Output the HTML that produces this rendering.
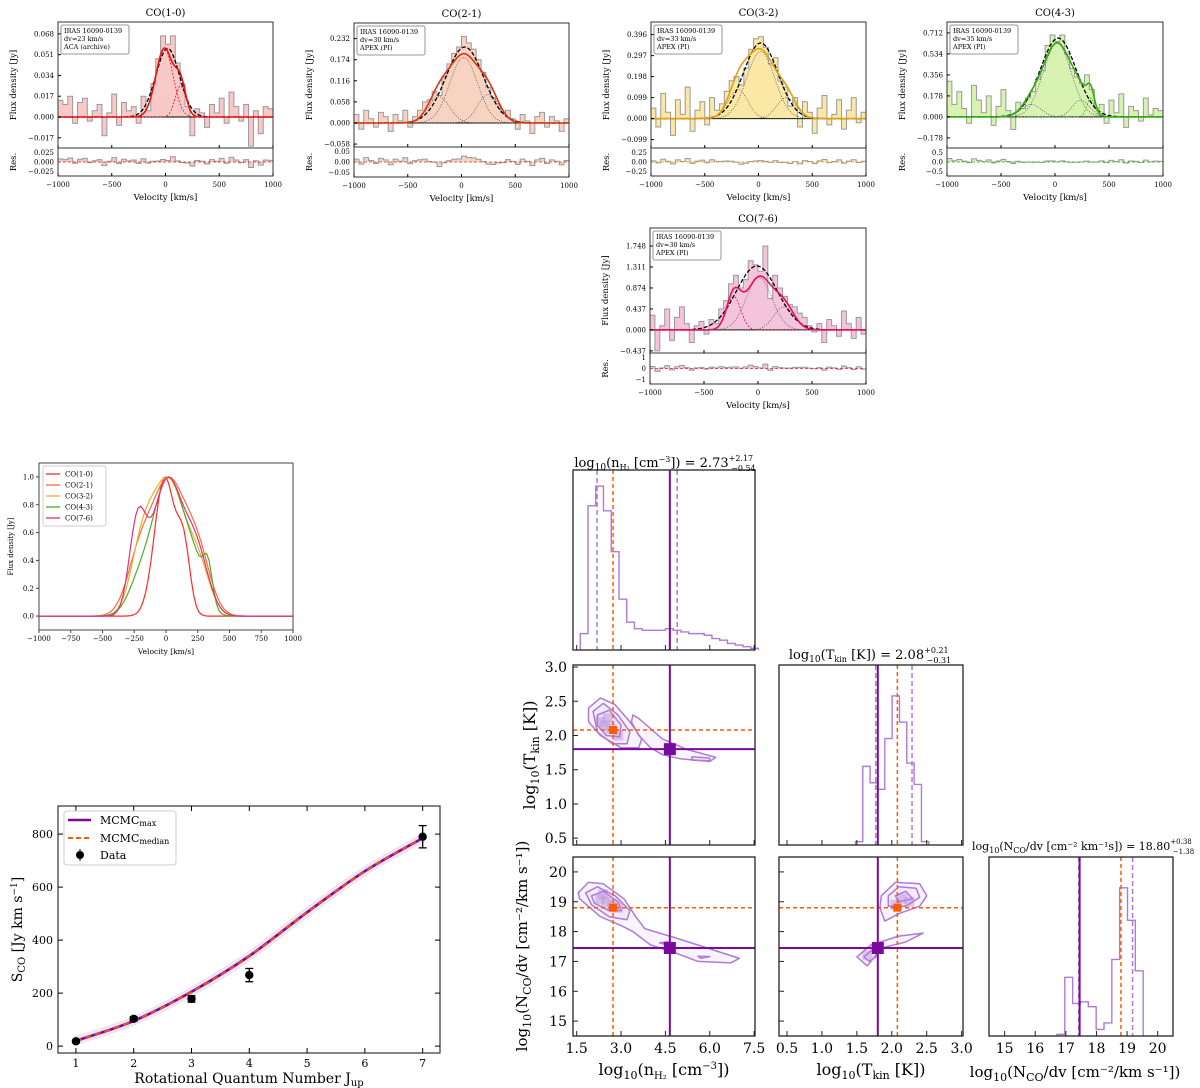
<!DOCTYPE html>
<html><head><meta charset="utf-8"><style>
html,body{margin:0;padding:0;background:#fff;}
svg{display:block;font-family:"DejaVu Serif","Liberation Serif",serif;}
</style></head><body>
<svg id="fig" xmlns="http://www.w3.org/2000/svg" width="1200" height="1088" viewBox="0 0 1200 1088"></svg>
<script>
// ---------------- DATA ----------------
const velEdgesMin = -1000, velEdgesMax = 1000;
const specTitles = ["CO(1-0)","CO(2-1)","CO(3-2)","CO(4-3)","CO(7-6)"];
const specDv = ["dv=23 km/s","dv=30 km/s","dv=33 km/s","dv=35 km/s","dv=30 km/s"];
const specObs = ["ACA (archive)","APEX (PI)","APEX (PI)","APEX (PI)","APEX (PI)"];
const specStep = [0.017,0.058,0.099,0.178,0.437];
const specTickLabels = [
 ["-0.017","0.000","0.017","0.034","0.051","0.068"],
 ["-0.058","0.000","0.058","0.116","0.174","0.232"],
 ["-0.099","0.000","0.099","0.198","0.297","0.396"],
 ["-0.178","0.000","0.178","0.356","0.534","0.712"],
 ["-0.437","0.000","0.437","0.874","1.311","1.748"]];
const resTickLabels = [["-0.025","0.000","0.025"],["-0.05","0.00","0.05"],["-0.25","0.00","0.25"],["-0.5","0.0","0.5"],["-1","0","1"]];
const resTickVal = [0.025,0.05,0.25,0.5,1];
// flux per bin (in units of the tick step)
const spec1 = [0.8,0.6,1.0,-0.3,0.7,0.9,-0.2,0.3,0.6,-0.9,0.2,1.1,-0.4,0.7,0.3,0.5,-0.3,1.0,0.3,1.6,2.8,3.9,3.5,3.9,2.6,1.6,0.5,-0.9,0.4,0.2,-0.5,0.6,0.2,0.9,-0.3,1.2,0.5,-0.2,0.6,-1.4,0.3,-0.8,0.5,0.4];
const spec2 = [0.4,-0.3,0.6,0.2,-0.2,0.5,0.3,-0.4,0.4,0.1,0.6,-0.2,0.3,0.6,1.0,1.1,1.5,1.3,2.2,2.8,3.3,3.6,4.1,3.8,3.5,3.0,2.4,1.7,1.2,0.9,0.5,0.6,0.2,-0.3,0.4,0.1,-0.5,0.3,0.5,-0.2,0.3,0.1,-0.4,0.2];
const spec3 = [0.5,-0.4,1.2,0.3,-0.8,0.9,0.2,1.5,-0.6,0.4,0.8,-0.3,1.0,0.4,0.7,1.3,1.8,2.0,1.6,2.4,3.3,3.8,3.9,3.4,2.6,2.9,1.8,1.5,0.6,1.0,-0.4,0.8,0.3,-0.7,0.5,1.1,-0.3,0.2,0.9,-0.5,0.4,1.0,-0.2,0.3];
const spec4 = [1.7,0.6,1.2,0.4,-0.3,1.5,0.8,0.2,1.0,-0.4,0.5,1.3,0.3,-0.6,0.7,0.4,0.9,1.2,1.8,2.2,3.4,3.9,3.6,3.9,3.0,2.3,1.9,1.6,2.0,1.3,0.4,0.6,-0.3,0.8,0.2,1.1,-0.5,0.5,0.3,-0.2,0.9,0.1,0.4,0.3];
const spec5 = [0.7,-1.0,0.2,1.0,-0.5,0.6,1.1,0.3,-0.6,0.2,0.4,-0.2,0.5,0.3,1.0,1.4,2.2,2.6,2.0,2.4,3.3,3.1,2.8,4.0,1.5,2.6,2.0,1.6,1.2,1.1,0.8,0.6,0.2,-0.1,0.3,-0.6,0.5,0.2,-0.3,0.9,0.3,-0.4,0.6,-0.2];
// gaussian components [amp(step units), centre km/s, sigma km/s]
const comps1 = [[3.3,-10,80],[1.5,140,50]];
const comps2 = [[3.1,20,130],[1.25,-210,100],[1.35,250,100]];
const comps3 = [[3.2,20,130],[1.4,-190,90],[1.0,260,90]];
const comps4 = [[3.5,20,130],[0.6,-220,90],[0.8,240,80],[0.9,330,35]];
const comps5 = [[2.5,10,120],[1.6,-225,65],[1.1,240,95]];
const single1 = [3.3,20,110], single2=[3.6,30,175], single3=[3.6,20,160], single4=[3.75,30,165], single5=[3.05,-10,190];
// ---------------- SED ----------------
const sedJ = [1,2,3,4,7];
const sedS = [18,103,178,268,790];
const sedErr = [5,8,12,25,42];
const modelJ = [1,2,3,4,5,6,7];
const modelS = [20,95,205,340,505,660,785];
const sedYTicks = [0,200,400,600,800];
const sedXTicks = [1,2,3,4,5,6,7];
// ---------------- CORNER ----------------
const truthMax = [4.65,1.80,17.45];
const truthMed = [2.73,2.08,18.80];
const qLo = [2.19,1.77,17.42];
const qHi = [4.90,2.29,19.18];
const histN = [0.1,0.88,1.0,0.85,0.6,0.31,0.17,0.13,0.12,0.12,0.12,0.13,0.12,0.11,0.1,0.1,0.09,0.07,0.06,0.04,0.03,0.02,0.01];
const histNStart = 1.62, histNWidth = 0.262;
const histT = [0.02,0.48,0.38,0.34,0.65,0.91,0.75,0.5,0.37,0.02];
const histTStart = 1.48, histTWidth = 0.105;
const histC = [0.01,0.36,0.2,0.21,0.18,0.04,0.08,0.47,0.91,0.71,0.4];
const histCStart = 16.71, histCWidth = 0.256;
const nTicks=[1.5,3.0,4.5,6.0,7.5], tTicks=[0.5,1.0,1.5,2.0,2.5,3.0], cTicks=[15,16,17,18,19,20];
const contNT = [
 [[1.9,2.4],[2.3,2.55],[2.8,2.45],[3.3,2.2],[3.7,1.95],[3.6,1.82],[3.0,1.82],[2.3,2.0],[1.9,2.2]],
 [[2.05,2.35],[2.4,2.47],[2.9,2.3],[3.3,2.05],[3.2,1.88],[2.7,1.88],[2.2,2.05]],
 [[2.2,2.3],[2.6,2.37],[3.0,2.15],[2.95,1.98],[2.5,2.0],[2.2,2.15]],
 [[3.4,2.3],[3.6,2.25],[4.4,1.95],[5.2,1.8],[6.2,1.68],[6.0,1.62],[5.0,1.66],[4.4,1.72],[4.0,1.82],[3.6,2.0],[3.35,2.2]],
 [[5.4,1.69],[6.0,1.67],[6.0,1.63],[5.4,1.64]]];
const contNC = [
 [[1.55,19.3],[1.9,19.65],[2.4,19.6],[3.1,19.1],[3.5,18.5],[3.8,18.1],[4.8,17.8],[5.6,17.55],[7.0,17.1],[6.7,16.95],[5.6,17.0],[4.8,17.3],[4.0,17.55],[3.4,18.0],[3.0,18.2],[2.3,18.5],[1.6,19.1]],
 [[1.8,19.3],[2.2,19.5],[2.8,19.2],[3.3,18.7],[3.2,18.4],[2.6,18.5],[2.0,18.9]],
 [[2.0,19.2],[2.4,19.35],[2.9,19.0],[3.0,18.7],[2.6,18.7],[2.1,18.95]],
 [[4.3,17.62],[4.6,17.66],[4.55,17.56]],
 [[5.6,17.17],[6.0,17.16],[5.7,17.1]]];
const contTC = [
 [[1.85,19.2],[2.05,19.65],[2.4,19.6],[2.5,19.2],[2.4,18.85],[2.1,18.6],[1.9,18.35],[1.83,18.8]],
 [[1.95,19.2],[2.1,19.5],[2.35,19.45],[2.4,19.15],[2.2,18.85],[1.95,18.85]],
 [[2.05,19.2],[2.2,19.35],[2.3,19.1],[2.1,19.0]],
 [[1.5,17.15],[1.7,17.55],[2.1,17.85],[2.45,17.95],[2.2,17.65],[1.85,17.45],[1.65,16.85]],
 [[1.6,17.15],[1.75,17.45],[1.8,17.2],[1.68,17.0]]];
const densNT = [[2.3,2.2],[2.45,2.15],[2.65,2.1],[2.55,2.25],[2.9,2.0]];
const densNC = [[2.3,19.1],[2.5,19.0],[2.7,18.9],[2.4,19.25],[2.9,18.8]];
const densTC = [[2.15,19.1],[2.25,19.0],[2.05,18.9],[1.65,17.2]];

// ---------------- helpers ----------------
const NS="http://www.w3.org/2000/svg";
const svg=document.getElementById('fig');
function el(tag,attrs,name,parent){
  const e=document.createElementNS(NS,tag);
  for(const k in attrs) e.setAttribute(k,attrs[k]);
  
  
  (parent||svg).appendChild(e); return e;
}
function txt(x,y,s,size,anchor,name,extra){
  const t=el('text',Object.assign({x:x,y:y,'font-size':size,'text-anchor':anchor||'middle',fill:'#000'},extra||{}),name);
  t.innerHTML=s; return t;
}
function gauss(c,v){return c[0]*Math.exp(-((v-c[1])**2)/(2*c[2]*c[2]));}
function sumG(cs,v){let s=0;for(const c of cs)s+=gauss(c,v);return s;}

// ---------------- spectra ----------------
const specs=[spec1,spec2,spec3,spec4,spec5];
const comps=[comps1,comps2,comps3,comps4,comps5];
const singles=[single1,single2,single3,single4,single5];
const fills=['#f8c9c9','#f8d3c2','#fbe8a6','#d8f2b2','#f4c3dc'];
const lines=['#ee1111','#dd3311','#e0a010','#33aa11','#e8105a'];
const layout=[
 {x0:58,x1:273,y0:22,ym:148,y1:176,up:4.57,dn:1.49},
 {x0:354,x1:569,y0:23,ym:147,y1:177,up:4.74,dn:1.14},
 {x0:651,x1:866,y0:22,ym:148,y1:176,up:4.6,dn:1.4},
 {x0:947,x1:1163,y0:22,ym:148,y1:176,up:4.52,dn:1.48},
 {x0:650,x1:866,y0:228,ym:353,y1:384,up:4.86,dn:1.1}];

specs.forEach((data,p)=>{
  const L=layout[p], g=el('g',{},'spectrum-panel-'+(p+1));
  const X=v=>L.x0+(v-velEdgesMin)/(velEdgesMax-velEdgesMin)*(L.x1-L.x0);
  const Y=u=>L.ym-(u+L.dn)/(L.up+L.dn)*(L.ym-L.y0);
  const rr=1.44, YR=r=>(L.ym+L.y1)/2-r/(rr)*((L.y1-L.ym)/2);
  const n=data.length, bw=(velEdgesMax-velEdgesMin)/n;
  let d='M'+X(velEdgesMin)+','+Y(0), ds='';
  data.forEach((u,i)=>{const a=X(velEdgesMin+i*bw),b=X(velEdgesMin+(i+1)*bw);
    d+=' L'+a+','+Y(u)+' L'+b+','+Y(u); ds+=(i?' L':'M')+a+','+Y(u)+' L'+b+','+Y(u);});
  d+=' L'+X(velEdgesMax)+','+Y(0)+'Z';
  el('path',{d:d,fill:fills[p],stroke:'none'},'flux-histogram-fill',g);
  el('path',{d:ds,fill:'none',stroke:'#999',"stroke-width":1},'flux-histogram',g);
  el('line',{x1:L.x0,x2:L.x1,y1:Y(0),y2:Y(0),stroke:'#000','stroke-width':1},'zero-line',g);
  comps[p].forEach((c,ci)=>{let pd='';for(let v=-1000;v<=1000;v+=10)pd+=(v>-1000?' L':'M')+X(v).toFixed(1)+','+Y(gauss(c,v)).toFixed(1);
    const col=(p===0||p===4&&ci===1||p===3&&ci===3);
    el('path',{d:pd,fill:'none',stroke:col?lines[p]:'#555','stroke-width':0.8,'stroke-dasharray':col?'2,1.5':'1,1.5'},'gaussian-component',g);});
  let td='',sd='';
  for(let v=-1000;v<=1000;v+=8){td+=(v>-1000?' L':'M')+X(v).toFixed(1)+','+Y(sumG(comps[p],v)).toFixed(1);
    sd+=(v>-1000?' L':'M')+X(v).toFixed(1)+','+Y(gauss(singles[p],v)).toFixed(1);}
  el('path',{d:sd,fill:'none',stroke:'#000','stroke-width':1.3,'stroke-dasharray':'4,2'},'single-gaussian-fit',g);
  el('path',{d:td,fill:'none',stroke:lines[p],'stroke-width':1.6},'total-fit',g);
  let rd='';
  data.forEach((u,i)=>{const vc=velEdgesMin+(i+0.5)*bw;let r=(u-sumG(comps[p],vc))*specStep[p]/resTickVal[p];r=Math.max(-1.4,Math.min(1.4,r*0.6));
    const a=X(velEdgesMin+i*bw),b=X(velEdgesMin+(i+1)*bw);rd+=(i?' L':'M')+a+','+YR(r)+' L'+b+','+YR(r);});
  el('path',{d:'M'+X(-1000)+','+YR(0)+' L'+rd.slice(1)+' L'+X(1000)+','+YR(0)+'Z',fill:fills[p],stroke:'none'},'residual-fill',g);
  el('path',{d:rd,fill:'none',stroke:'#999','stroke-width':1},'residual-histogram',g);
  el('line',{x1:L.x0,x2:L.x1,y1:YR(0),y2:YR(0),stroke:lines[p],'stroke-width':0.8,'stroke-dasharray':'3,2'},'residual-zero',g);
  el('rect',{x:L.x0,y:L.y0,width:L.x1-L.x0,height:L.ym-L.y0,fill:'none',stroke:'#333','stroke-width':1},'main-axes-frame',g);
  el('rect',{x:L.x0,y:L.ym,width:L.x1-L.x0,height:L.y1-L.ym,fill:'none',stroke:'#333','stroke-width':1},'residual-axes-frame',g);
  specTickLabels[p].forEach((s,k)=>{const yy=Y(k-1);
    el('line',{x1:L.x0,x2:L.x0+3,y1:yy,y2:yy,stroke:'#000'},'y-tick',g);
    txt(L.x0-4,yy+2.5,s.replace('-','−'),7,'end','y-tick-label');});
  resTickLabels[p].forEach((s,k)=>{const yy=YR(k-1);txt(L.x0-4,yy+2.5,s.replace('-','−'),7,'end','res-tick-label');});
  [-1000,-500,0,500,1000].forEach(v=>{el('line',{x1:X(v),x2:X(v),y1:L.ym,y2:L.ym-3,stroke:'#000'},'x-tick',g);
    el('line',{x1:X(v),x2:X(v),y1:L.y1,y2:L.y1-3,stroke:'#000'},'x-tick',g);
    txt(X(v),L.y1+11,String(v).replace('-','−'),7,'middle','x-tick-label');});
  txt((L.x0+L.x1)/2,L.y1+24,'Velocity [km/s]',8.5,'middle','x-axis-title');
  txt(L.x0-42,(L.y0+L.ym)/2,'Flux density [Jy]',8.5,'middle','y-axis-title',{transform:`rotate(-90 ${L.x0-42} ${(L.y0+L.ym)/2})`});
  txt(L.x0-42,(L.ym+L.y1)/2,'Res.',8.5,'middle','res-axis-title',{transform:`rotate(-90 ${L.x0-42} ${(L.ym+L.y1)/2})`});
  txt((L.x0+L.x1)/2,L.y0-6,specTitles[p],10,'middle','panel-title');
  el('rect',{x:L.x0+3,y:L.y0+3,width:68,height:29,rx:2,fill:'#fff',stroke:'#777','stroke-width':0.8},'info-box',g);
  txt(L.x0+6,L.y0+11,'IRAS 16090-0139',6.5,'start','info-source');
  txt(L.x0+6,L.y0+19,specDv[p],6.5,'start','info-dv');
  txt(L.x0+6,L.y0+27,specObs[p],6.5,'start','info-observatory');
});

// ---------------- normalized profiles ----------------
(function(){
 const x0=39,x1=293,y0=463,y1=630,g=el('g',{},'normalized-profiles-panel');
 const X=v=>x0+(v+1000)/2000*(x1-x0), Y=u=>y1-(u+0.1)/1.2*(y1-y0);
 const cols=['#ff2a2a','#ff6a3a','#e8b030','#55aa22','#e0307a'];
 [0,1,2,3,4].forEach(p=>{let mx=0;for(let v=-1000;v<=1000;v+=20)mx=Math.max(mx,sumG(comps[p],v));
   let d='';for(let v=-1000;v<=1000;v+=20)d+=(v>-1000?' L':'M')+X(v).toFixed(1)+','+Y(sumG(comps[p],v)/mx).toFixed(1);
   el('path',{d:d,fill:'none',stroke:cols[p],'stroke-width':1.2},'profile-'+specTitles[p],g);});
 el('rect',{x:x0,y:y0,width:x1-x0,height:y1-y0,fill:'none',stroke:'#444'},'profiles-frame',g);
 [0,0.2,0.4,0.6,0.8,1.0].forEach(u=>{el('line',{x1:x0-3,x2:x0,y1:Y(u),y2:Y(u),stroke:'#444'},'y-tick',g);txt(x0-5,Y(u)+2.5,u.toFixed(1),7,'end','y-tick-label');});
 [-1000,-750,-500,-250,0,250,500,750,1000].forEach(v=>{el('line',{x1:X(v),x2:X(v),y1:y1,y2:y1+3,stroke:'#444'},'x-tick',g);txt(X(v),y1+11,String(v).replace('-','−'),7,'middle','x-tick-label');});
 txt((x0+x1)/2,y1+24,'Velocity [km/s]',7.5,'middle','x-axis-title');
 txt(x0-26,(y0+y1)/2,'Flux density [Jy]',7,'middle','y-axis-title',{transform:`rotate(-90 ${x0-26} ${(y0+y1)/2})`});
 el('rect',{x:43,y:466,width:63,height:60,rx:2,fill:'#fff',stroke:'#ccc'},'legend-box',g);
 specTitles.forEach((s,i)=>{const yy=474+i*11;el('line',{x1:46,x2:60,y1:yy,y2:yy,stroke:cols[i],'stroke-width':1.3},'legend-line',g);txt(65,yy+2.5,s,7,'start','legend-entry');});
})();

// ---------------- SED ----------------
(function(){
 const x0=58,x1=440,y0=806,y1=1053,g=el('g',{},'sed-panel');
 const X=j=>x0+(j-0.69)/(7.3-0.69)*(x1-x0), Y=s=>y1-(s+26)/932*(y1-y0);
 function smooth(xs,ys){let d='M'+X(xs[0])+','+Y(ys[0]);for(let i=0;i<xs.length-1;i++){const p0=i?i-1:i,p3=i+2<xs.length?i+2:i+1;
  const c1x=xs[i]+(xs[i+1]-xs[p0])/6,c1y=ys[i]+(ys[i+1]-ys[p0])/6,c2x=xs[i+1]-(xs[p3]-xs[i])/6,c2y=ys[i+1]-(ys[p3]-ys[i])/6;
  d+=` C${X(c1x)},${Y(c1y)} ${X(c2x)},${Y(c2y)} ${X(xs[i+1])},${Y(ys[i+1])}`;}return d;}
 const d=smooth(modelJ,modelS);
 el('path',{d:d,fill:'none',stroke:'#b890d8','stroke-width':9,'stroke-opacity':0.25},'mcmc-samples-band',g);
 el('path',{d:d,fill:'none',stroke:'#7a0a9a','stroke-width':2.6},'mcmc-max-curve',g);
 el('path',{d:d,fill:'none',stroke:'#ff5a00','stroke-width':1.6,'stroke-dasharray':'6,4'},'mcmc-median-curve',g);
 sedJ.forEach((j,i)=>{el('line',{x1:X(j),x2:X(j),y1:Y(sedS[i]-sedErr[i]),y2:Y(sedS[i]+sedErr[i]),stroke:'#000','stroke-width':1.3},'error-bar',g);
  el('line',{x1:X(j)-4,x2:X(j)+4,y1:Y(sedS[i]-sedErr[i]),y2:Y(sedS[i]-sedErr[i]),stroke:'#000','stroke-width':1.3},'error-cap',g);
  el('line',{x1:X(j)-4,x2:X(j)+4,y1:Y(sedS[i]+sedErr[i]),y2:Y(sedS[i]+sedErr[i]),stroke:'#000','stroke-width':1.3},'error-cap',g);
  el('circle',{cx:X(j),cy:Y(sedS[i]),r:4.2,fill:'#000'},'data-point-J'+j,g);});
 el('rect',{x:x0,y:y0,width:x1-x0,height:y1-y0,fill:'none',stroke:'#333','stroke-width':1.2},'sed-frame',g);
 sedYTicks.forEach(s=>{el('line',{x1:x0,x2:x0+5,y1:Y(s),y2:Y(s),stroke:'#000'},'y-tick',g);el('line',{x1:x1,x2:x1-5,y1:Y(s),y2:Y(s),stroke:'#000'},'y-tick',g);txt(x0-5,Y(s)+4,String(s),11,'end','y-tick-label');});
 sedXTicks.forEach(j=>{el('line',{x1:X(j),x2:X(j),y1:y1,y2:y1-5,stroke:'#000'},'x-tick',g);el('line',{x1:X(j),x2:X(j),y1:y0,y2:y0+5,stroke:'#000'},'x-tick',g);txt(X(j),y1+14,String(j),11,'middle','x-tick-label');});
 txt((x0+x1)/2,y1+30,'Rotational Quantum Number J<tspan font-size="10" dy="3">up</tspan>',14,'middle','x-axis-title');
 txt(22,(y0+y1)/2,'S<tspan font-size="10" dy="3">CO</tspan><tspan dy="-3"> [Jy km s</tspan><tspan font-size="9" dy="-5">−1</tspan><tspan dy="5">]</tspan>',14,'middle','y-axis-title',{transform:`rotate(-90 22 ${(y0+y1)/2})`});
 el('rect',{x:64,y:811,width:112,height:54,rx:3,fill:'#fff',stroke:'#ccc'},'legend-box',g);
 el('line',{x1:68,x2:91,y1:820,y2:820,stroke:'#7a0a9a','stroke-width':2.5},'legend-max-line',g);
 txt(100,824,'MCMC<tspan font-size="8" dy="2">max</tspan>',11,'start','legend-mcmc-max');
 el('line',{x1:68,x2:91,y1:838,y2:838,stroke:'#ff5a00','stroke-width':2,'stroke-dasharray':'5,3'},'legend-median-line',g);
 txt(100,842,'MCMC<tspan font-size="8" dy="2">median</tspan>',11,'start','legend-mcmc-median');
 el('circle',{cx:80,cy:855,r:4,fill:'#000'},'legend-data-marker',g);
 el('line',{x1:80,x2:80,y1:849,y2:861,stroke:'#000'},'legend-data-bar',g);
 txt(100,859,'Data',11,'start','legend-data');
})();

// ---------------- corner plot ----------------
const purple='#7a0a9a', lav='#b07ad8', orange='#ff5a00';
const colX=[[573,755,1.375,7.53],[779,963,0.385,3.02],[989,1173,14.49,20.5]];
const rowY=[[470,650],[665,845],[857,1036]];
const rowRange=[null,[0.4,3.03],[14.5,20.5]];
function sx(c,v){const C=colX[c];return C[0]+(v-C[2])/(C[3]-C[2])*(C[1]-C[0]);}
function sy(r,v){const R=rowY[r],Q=rowRange[r];return R[1]-(v-Q[0])/(Q[1]-Q[0])*(R[1]-R[0]);}
function frame(c,r,name){el('rect',{x:colX[c][0],y:rowY[r][0],width:colX[c][1]-colX[c][0],height:rowY[r][1]-rowY[r][0],fill:'none',stroke:'#222','stroke-width':1.3},name);}
function histPanel(c,vals,start,w,name){
 const r=c, R=rowY[r], H=R[1]-R[0]; let d='';
 vals.forEach((v,i)=>{const a=sx(c,start+i*w),b=sx(c,start+(i+1)*w),y=R[1]-v*H*0.91;d+=(i?' L':'M'+a+','+R[1]+' L')+a+','+y+' L'+b+','+y;});
 d+=' L'+sx(c,start+vals.length*w)+','+R[1];
 el('path',{d:d,fill:'none',stroke:lav,'stroke-width':1.4},name);
 const vl=(v,col,dash,wd,nm)=>el('line',{x1:sx(c,v),x2:sx(c,v),y1:R[0],y2:R[1],stroke:col,'stroke-width':wd,'stroke-dasharray':dash},nm);
 vl(qLo[c],lav,'5,3',1.5,'quantile-low-line');vl(qHi[c],lav,'5,3',1.5,'quantile-high-line');
 vl(truthMed[c],orange,'4,3',1.5,'median-line');vl(truthMax[c],purple,'',2,'max-line');
 frame(c,r,'hist-frame-'+c);
}
histPanel(0,histN,histNStart,histNWidth,'histogram-nH2');
histPanel(1,histT,histTStart,histTWidth,'histogram-Tkin');
histPanel(2,histC,histCStart,histCWidth,'histogram-NCO');
function panel2d(c,r,conts,dens,name){
 const g=el('g',{},name);
 dens.forEach(p=>el('rect',{x:sx(c,p[0])-5,y:sy(r,p[1])-5,width:10,height:10,fill:'#b58ad8','fill-opacity':0.45},'density-cell',g));
 conts.forEach(ring=>{const pts=ring.map(p=>sx(c,p[0]).toFixed(1)+','+sy(r,p[1]).toFixed(1)).join(' ');
  el('polygon',{points:pts,fill:'#c9a8e8','fill-opacity':0.12,stroke:lav,'stroke-width':1.5,'stroke-linejoin':'round'},'contour',g);});
 const R=rowY[r],C=colX[c];
 el('line',{x1:sx(c,truthMed[c]),x2:sx(c,truthMed[c]),y1:R[0],y2:R[1],stroke:orange,'stroke-width':1.5,'stroke-dasharray':'4,3'},'median-vline',g);
 el('line',{x1:C[0],x2:C[1],y1:sy(r,truthMed[r]),y2:sy(r,truthMed[r]),stroke:orange,'stroke-width':1.5,'stroke-dasharray':'4,3'},'median-hline',g);
 el('line',{x1:sx(c,truthMax[c]),x2:sx(c,truthMax[c]),y1:R[0],y2:R[1],stroke:purple,'stroke-width':2},'max-vline',g);
 el('line',{x1:C[0],x2:C[1],y1:sy(r,truthMax[r]),y2:sy(r,truthMax[r]),stroke:purple,'stroke-width':2},'max-hline',g);
 el('rect',{x:sx(c,truthMed[c])-4,y:sy(r,truthMed[r])-4,width:8,height:8,fill:orange},'median-marker',g);
 el('rect',{x:sx(c,truthMax[c])-6,y:sy(r,truthMax[r])-6,width:12,height:12,fill:purple},'max-marker',g);
 frame(c,r,'frame-2d');
}
panel2d(0,1,contNT,densNT,'corner-n-vs-T');
panel2d(0,2,contNC,densNC,'corner-n-vs-N');
panel2d(1,2,contTC,densTC,'corner-T-vs-N');
function xticks(c,r,ticks,labels){const R=rowY[r];ticks.forEach(v=>{el('line',{x1:sx(c,v),x2:sx(c,v),y1:R[1],y2:R[1]-5,stroke:'#222'},'x-tick');
 if(labels)txt(sx(c,v),R[1]+17,v.toFixed(c===2?0:1),14,'middle','x-tick-label');});}
function yticks(c,r,ticks,labels,fmt){const C=colX[c];ticks.forEach(v=>{el('line',{x1:C[0],x2:C[0]+5,y1:sy(r,v),y2:sy(r,v),stroke:'#222'},'y-tick');
 if(labels)txt(C[0]-6,sy(r,v)+5,fmt(v),14,'end','y-tick-label');});}
xticks(0,0,nTicks,false);xticks(0,1,nTicks,false);xticks(0,2,nTicks,true);
xticks(1,1,tTicks,false);xticks(1,2,tTicks,true);xticks(2,2,cTicks,true);
yticks(0,1,[0.5,1.0,1.5,2.0,2.5,3.0],true,v=>v.toFixed(1));
yticks(0,2,cTicks,true,v=>String(v));yticks(1,2,cTicks,false,v=>'');
txt(665,467,'log<tspan font-size="9" dy="3">10</tspan><tspan dy="-3">(n</tspan><tspan font-size="8" dy="3">H₂</tspan><tspan dy="-3"> [cm</tspan><tspan font-size="8" dy="-5">−3</tspan><tspan dy="5">]) = 2.73</tspan><tspan font-size="8" dy="-6">+2.17</tspan><tspan font-size="8" dx="-22" dy="10">−0.54</tspan>',13,'middle','title-nH2');
txt(870,659,'log<tspan font-size="9" dy="3">10</tspan><tspan dy="-3">(T</tspan><tspan font-size="8" dy="3">kin</tspan><tspan dy="-3"> [K]) = 2.08</tspan><tspan font-size="8" dy="-6">+0.21</tspan><tspan font-size="8" dx="-22" dy="10">−0.31</tspan>',13,'middle','title-Tkin');
txt(972,850,'log<tspan font-size="8" dy="3">10</tspan><tspan dy="-3">(N</tspan><tspan font-size="8" dy="3">CO</tspan><tspan dy="-3">/dv [cm⁻² km⁻¹s]) = 18.80</tspan><tspan font-size="7" dy="-6">+0.38</tspan><tspan font-size="7" dx="-19" dy="10">−1.38</tspan>',11,'start','title-NCO');
txt(664,1075,'log<tspan font-size="11" dy="4">10</tspan><tspan dy="-4">(n</tspan><tspan font-size="10" dy="4">H₂</tspan><tspan dy="-4"> [cm</tspan><tspan font-size="10" dy="-6">−3</tspan><tspan dy="6">])</tspan>',16,'middle','x-axis-title-nH2');
txt(871,1075,'log<tspan font-size="11" dy="4">10</tspan><tspan dy="-4">(T</tspan><tspan font-size="11" dy="4">kin</tspan><tspan dy="-4"> [K])</tspan>',16,'middle','x-axis-title-Tkin');
txt(1075,1077,'log<tspan font-size="11" dy="4">10</tspan><tspan dy="-4">(N</tspan><tspan font-size="11" dy="4">CO</tspan><tspan dy="-4">/dv [cm⁻²/km s⁻¹])</tspan>',15,'middle','x-axis-title-NCO');
txt(535,755,'log<tspan font-size="11" dy="4">10</tspan><tspan dy="-4">(T</tspan><tspan font-size="11" dy="4">kin</tspan><tspan dy="-4"> [K])</tspan>',16,'middle','y-axis-title-Tkin',{transform:'rotate(-90 535 755)'});
txt(527,946,'log<tspan font-size="11" dy="4">10</tspan><tspan dy="-4">(N</tspan><tspan font-size="11" dy="4">CO</tspan><tspan dy="-4">/dv [cm⁻²/km s⁻¹])</tspan>',15,'middle','y-axis-title-NCO',{transform:'rotate(-90 527 946)'});
</script>
</body></html>
